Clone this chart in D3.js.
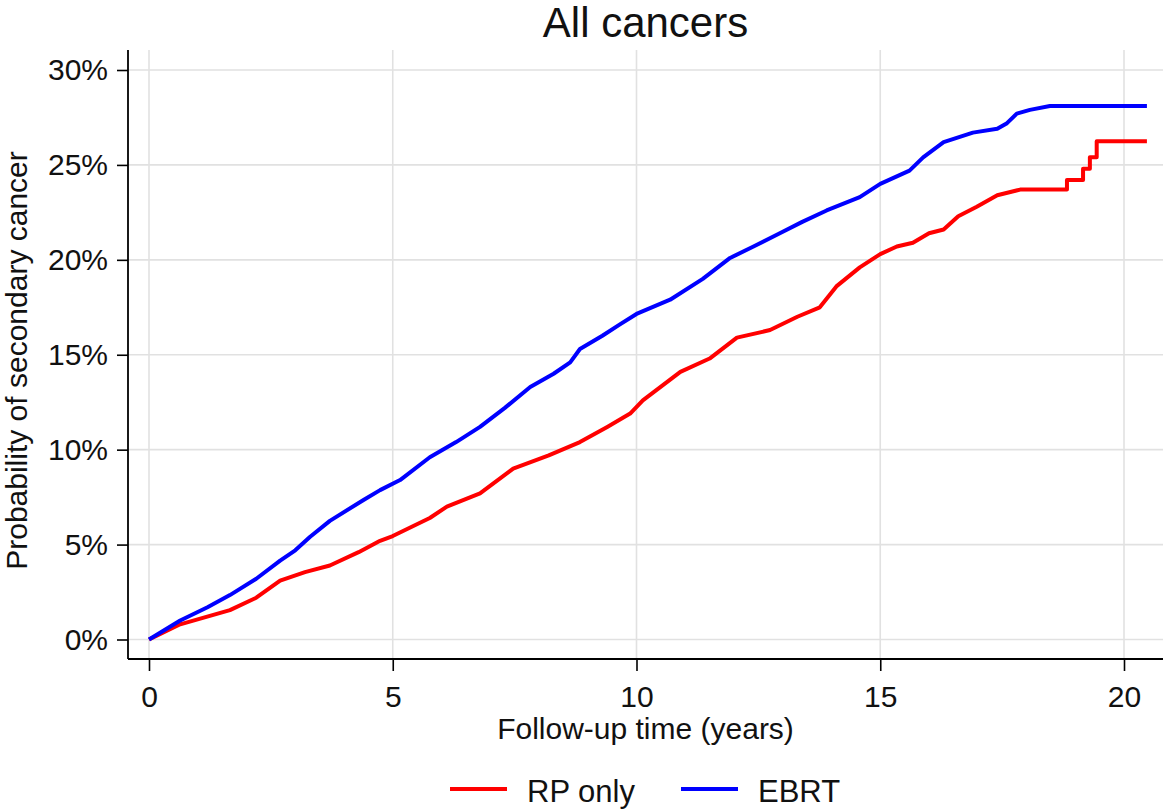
<!DOCTYPE html>
<html>
<head>
<meta charset="utf-8">
<script src="https://cdn.jsdelivr.net/npm/d3@7"></script>
<style>
  html, body { margin: 0; padding: 0; background: #fff; }
  svg { display: block; font-family: "Liberation Sans", Arial, sans-serif; }
</style>
</head>
<body>
<svg id="chart" width="1166" height="809"></svg>
<script>
// ── Data ─────────────────────────────────────────────────────────────────────

const xTicks = [0, 5, 10, 15, 20];
const yTicks = [0, 5, 10, 15, 20, 25, 30];

// EBRT: [years, cumulative %]
const ebrt = [
  [0, 0], [0.64, 1.0], [1.2, 1.7], [1.66, 2.34], [2.2, 3.2], [2.69, 4.15],
  [3.0, 4.7], [3.3, 5.4], [3.71, 6.25], [4.4, 7.35], [4.74, 7.87], [5.15, 8.4],
  [5.76, 9.6], [6.3, 10.4], [6.79, 11.2], [7.3, 12.2], [7.82, 13.3], [8.3, 14.0],
  [8.64, 14.6], [8.84, 15.3], [9.3, 16.0], [9.66, 16.6], [10.0, 17.15],
  [10.69, 17.9], [11.36, 19.0], [11.92, 20.1], [12.4, 20.7], [12.94, 21.4],
  [13.4, 22.0], [13.9, 22.6], [14.58, 23.3], [15.0, 24.0], [15.6, 24.7],
  [15.88, 25.4], [16.3, 26.2], [16.9, 26.7], [17.4, 26.9], [17.6, 27.2],
  [17.8, 27.7], [18.07, 27.9], [18.48, 28.1], [20.47, 28.1]
];

// RP only: [years, cumulative %]
const rpOnly = [
  [0, 0], [0.64, 0.8], [1.66, 1.55], [2.2, 2.2], [2.69, 3.1], [3.2, 3.55],
  [3.71, 3.9], [4.3, 4.6], [4.74, 5.2], [5.0, 5.45], [5.76, 6.4], [6.11, 7.0],
  [6.79, 7.7], [7.47, 9.0], [8.2, 9.7], [8.84, 10.4], [9.4, 11.2], [9.87, 11.9],
  [10.13, 12.6], [10.9, 14.1], [11.5, 14.8], [12.06, 15.9], [12.74, 16.3],
  [13.3, 17.0], [13.76, 17.5], [14.1, 18.6], [14.58, 19.6], [15.0, 20.3],
  [15.34, 20.7], [15.67, 20.9], [16.0, 21.4], [16.3, 21.6], [16.6, 22.3],
  [16.98, 22.8], [17.4, 23.4], [17.87, 23.7], [18.83, 23.7], [18.83, 24.2],
  [19.16, 24.2], [19.16, 24.8], [19.3, 24.8], [19.3, 25.4], [19.44, 25.4],
  [19.44, 26.25], [20.47, 26.25]
];

const series = [
  { name: "RP only", color: "#ff0000", values: rpOnly },
  { name: "EBRT",    color: "#0000ff", values: ebrt }
];

// ── Layout ───────────────────────────────────────────────────────────────────

const plot = { left: 128, right: 1163, top: 50, bottom: 659 };

const x = d3.scaleLinear().domain([0, 20]).range([149, 1124]);
const y = d3.scaleLinear().domain([0, 30]).range([639.5, 70]);

const svg = d3.select("#chart");

// Gridlines
svg.append("g")
  .selectAll("line.hgrid")
  .data(yTicks)
  .join("line")
  .attr("x1", plot.left).attr("x2", plot.right)
  .attr("y1", d => y(d)).attr("y2", d => y(d))
  .attr("stroke", "#e1e1e1").attr("stroke-width", 1.6);

svg.append("g")
  .selectAll("line.vgrid")
  .data(xTicks)
  .join("line")
  .attr("x1", d => x(d)).attr("x2", d => x(d))
  .attr("y1", plot.top).attr("y2", plot.bottom)
  .attr("stroke", "#e1e1e1").attr("stroke-width", 1.6);

// Axes
const xAxis = svg.append("g")
  .attr("transform", `translate(0,${plot.bottom})`)
  .call(d3.axisBottom(x).tickValues(xTicks).tickSize(12).tickPadding(15));

const yAxis = svg.append("g")
  .attr("transform", `translate(${plot.left},0)`)
  .call(d3.axisLeft(y).tickValues(yTicks).tickSize(11).tickPadding(9)
    .tickFormat(d => d + "%"));

[xAxis, yAxis].forEach(g => {
  g.select(".domain").remove();
  g.selectAll(".tick line").attr("stroke", "#000").attr("stroke-width", 1.6);
  g.selectAll(".tick text")
    .attr("fill", "#111")
    .style("font-size", "30px")
    .style("font-family", "'Liberation Sans', Arial, sans-serif");
});

// Axis lines
svg.append("line")
  .attr("x1", plot.left).attr("x2", plot.left)
  .attr("y1", plot.top).attr("y2", plot.bottom)
  .attr("stroke", "#000").attr("stroke-width", 1.8);
svg.append("line")
  .attr("x1", plot.left).attr("x2", plot.right)
  .attr("y1", plot.bottom).attr("y2", plot.bottom)
  .attr("stroke", "#000").attr("stroke-width", 1.8);

// Lines
const line = d3.line()
  .x(d => x(d[0]))
  .y(d => y(d[1]))
  .curve(d3.curveLinear);

svg.append("g")
  .selectAll("path")
  .data(series)
  .join("path")
  .attr("fill", "none")
  .attr("stroke", d => d.color)
  .attr("stroke-width", 4)
  .attr("stroke-linejoin", "round")
  .attr("d", d => line(d.values));

// Titles
const midX = (plot.left + plot.right) / 2;

svg.append("text")
  .attr("x", midX).attr("y", 37)
  .attr("text-anchor", "middle")
  .attr("fill", "#111")
  .style("font-size", "42px")
  .text("All cancers");

svg.append("text")
  .attr("x", midX).attr("y", 739)
  .attr("text-anchor", "middle")
  .attr("fill", "#111")
  .style("font-size", "30px")
  .text("Follow-up time (years)");

svg.append("text")
  .attr("transform", `translate(27,${(plot.top + plot.bottom) / 2 + 6}) rotate(-90)`)
  .attr("text-anchor", "middle")
  .attr("fill", "#111")
  .style("font-size", "30px")
  .text("Probability of secondary cancer");

// Legend
const legendItems = [
  { x: 450, textX: 527 },
  { x: 681, textX: 758 }
];

const legend = svg.append("g");
series.forEach((s, i) => {
  const pos = legendItems[i];
  legend.append("line")
    .attr("x1", pos.x).attr("x2", pos.x + 57)
    .attr("y1", 789).attr("y2", 789)
    .attr("stroke", s.color).attr("stroke-width", 4);
  legend.append("text")
    .attr("x", pos.textX).attr("y", 802)
    .attr("fill", "#111")
    .style("font-size", "31px")
    .text(s.name);
});
</script>
</body>
</html>
